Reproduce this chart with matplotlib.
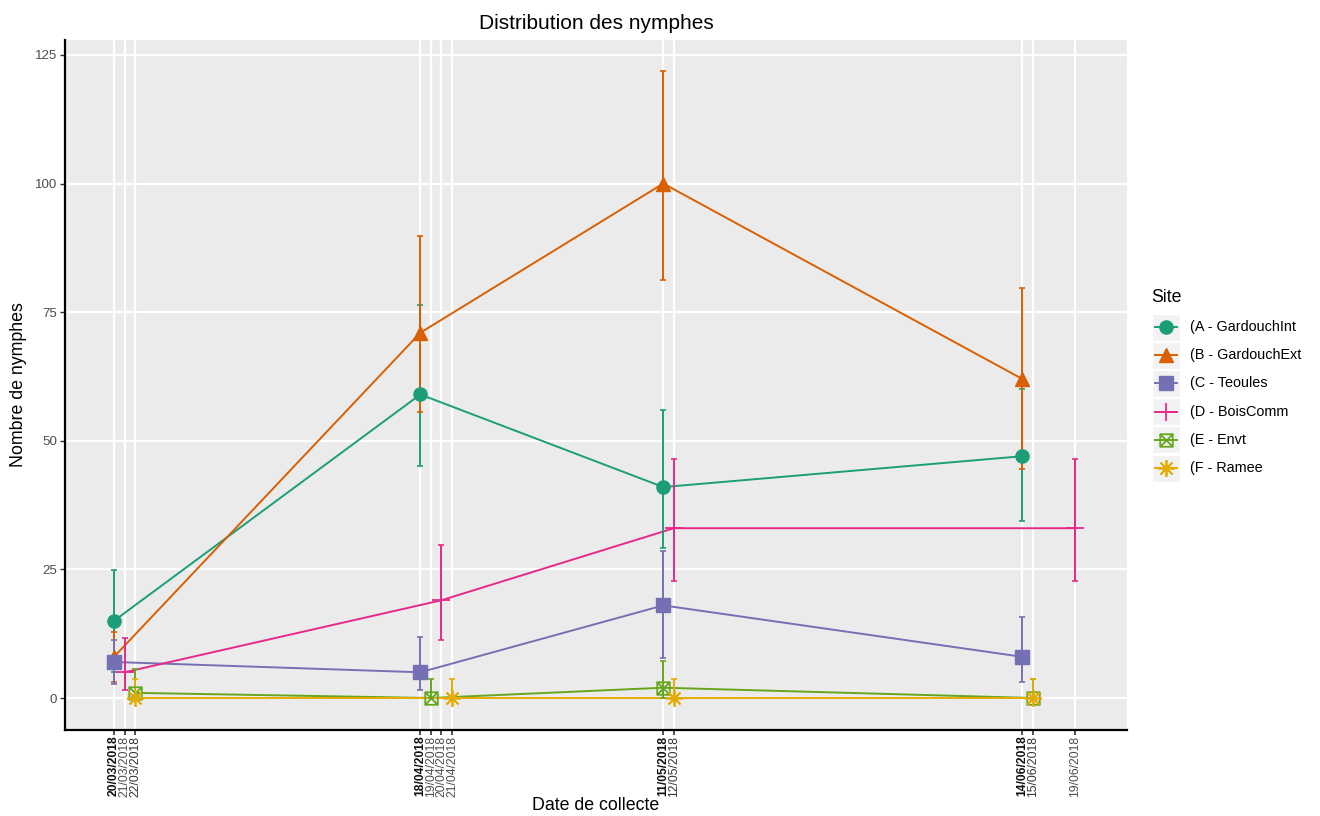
import matplotlib
matplotlib.use('Agg')
import matplotlib.pyplot as plt
import matplotlib.dates as mdates
from matplotlib.path import Path
from matplotlib.patches import Rectangle
import pandas as pd
import numpy as np

plt.rcParams['font.family'] = ['Liberation Sans', 'DejaVu Sans']

# Data
sites = ['(A - GardouchInt', '(B - GardouchExt', '(C - Teoules',
         '(D - BoisComm', '(E - Envt', '(F - Ramee']
colors = ['#1B9E77', '#D95F02', '#7570B3', '#E7298A', '#66A61E', '#E6AB02']

dates_A = ['2018-03-20', '2018-04-18', '2018-05-11', '2018-06-14']
dates_B = ['2018-03-20', '2018-04-18', '2018-05-11', '2018-06-14']
dates_C = ['2018-03-20', '2018-04-18', '2018-05-11', '2018-06-14']
dates_D = ['2018-03-21', '2018-04-20', '2018-05-12', '2018-06-19']
dates_E = ['2018-03-22', '2018-04-19', '2018-05-11', '2018-06-15']
dates_F = ['2018-03-22', '2018-04-21', '2018-05-12', '2018-06-15']

vals_A = [15, 59, 41, 47]
vals_B = [8, 71, 100, 62]
vals_C = [7, 5, 18, 8]
vals_D = [5, 19, 33, 33]
vals_E = [1, 0, 2, 0]
vals_F = [0, 0, 0, 0]

low_A = [5.1, 45, 29.2, 34.4]
low_B = [3.2, 55.5, 81.3, 44.5]
low_C = [2.7, 1.6, 7.8, 3.1]
low_D = [1.6, 11.3, 22.7, 22.7]
low_E = [0, 0, 0, 0]
low_F = [0, 0, 0, 0]

high_A = [24.9, 76.4, 56, 60]
high_B = [12.9, 89.8, 121.9, 79.7]
high_C = [11.3, 11.9, 28.6, 15.7]
high_D = [11.7, 29.7, 46.5, 46.5]
high_E = [5.6, 3.7, 7.2, 3.7]
high_F = [3.7, 3.7, 3.7, 3.7]

all_dates = [dates_A, dates_B, dates_C, dates_D, dates_E, dates_F]
all_vals = [vals_A, vals_B, vals_C, vals_D, vals_E, vals_F]
all_low = [low_A, low_B, low_C, low_D, low_E, low_F]
all_high = [high_A, high_B, high_C, high_D, high_E, high_F]

# boxed x marker (R pch 7)
box_x = Path([(-1, -1), (1, -1), (1, 1), (-1, 1), (-1, -1),
              (-1, -1), (1, 1), (-1, 1), (1, -1)],
             [Path.MOVETO, Path.LINETO, Path.LINETO, Path.LINETO, Path.CLOSEPOLY,
              Path.MOVETO, Path.LINETO, Path.MOVETO, Path.LINETO])
markers = ['o', '^', 's', '+', box_x, (8, 2, 0)]
msizes = [9.5, 10.5, 9.5, 13, 9, 12]
filled = [True, True, True, False, False, False]

fig = plt.figure(figsize=(13.2, 8.16), dpi=100)
ax = fig.add_axes([65 / 1320, 1 - 730 / 816, (1127 - 65) / 1320, (730 - 40) / 816])
ax.set_facecolor('#EBEBEB')

# x ticks: every collection date
tick_dates = sorted(set(d for ds in all_dates for d in ds))
counts = {d: sum(ds.count(d) for ds in all_dates) for d in tick_dates}
tick_nums = mdates.date2num(pd.to_datetime(tick_dates))

for x in tick_nums:
    ax.axvline(x, color='white', lw=1.6, zorder=0)
for y in [0, 25, 50, 75, 100, 125]:
    ax.axhline(y, color='white', lw=1.6, zorder=0)

for i in range(6):
    x = mdates.date2num(pd.to_datetime(all_dates[i]))
    v = np.array(all_vals[i], dtype=float)
    lo = np.array(all_low[i])
    hi = np.array(all_high[i])
    ax.plot(x, v, color=colors[i], lw=1.4, zorder=2)
    ax.errorbar(x, v, yerr=[v - lo, hi - v], fmt='none', ecolor=colors[i],
                elinewidth=1.4, capsize=2.2, capthick=1.2, zorder=3)
    if filled[i]:
        ax.plot(x, v, ls='none', marker=markers[i], ms=msizes[i], color=colors[i],
                mec=colors[i], zorder=4)
    else:
        ax.plot(x, v, ls='none', marker=markers[i], ms=msizes[i], mfc='none',
                mec=colors[i], mew=1.3, zorder=4)

start = mdates.date2num(pd.Timestamp('2018-03-20'))
end = mdates.date2num(pd.Timestamp('2018-06-19'))
ax.set_xlim(start - 4.64, end + 4.9)
ax.set_ylim(-6.22, 127.9)

ax.set_xticks(tick_nums)
ax.set_xticklabels([pd.Timestamp(d).strftime('%d/%m/%Y') for d in tick_dates],
                   rotation=90, fontsize=8.7)
for lab, d in zip(ax.get_xticklabels(), tick_dates):
    n = counts[d]
    if n >= 3:
        lab.set_color('#111111')
        lab.set_fontweight('bold')
    elif n == 2:
        lab.set_color('#333333')
    else:
        lab.set_color('#4D4D4D')

ax.set_yticks([0, 25, 50, 75, 100, 125])
ax.tick_params(axis='y', labelsize=9.6, labelcolor='#4D4D4D', color='#333333',
               length=3.5, width=1, pad=2)
ax.tick_params(axis='x', color='#333333', length=3.5, width=1.2, pad=0.5)

for s in ['top', 'right']:
    ax.spines[s].set_visible(False)
for s in ['left', 'bottom']:
    ax.spines[s].set_color('black')
    ax.spines[s].set_linewidth(1.6)

ax.set_title('Distribution des nymphes', fontsize=15, pad=8)
ax.set_xlabel('Date de collecte', fontsize=12.8, va='center')
ax.xaxis.set_label_coords(0.5, (730 - 806) / 690)
ax.set_ylabel('Nombre de nymphes', fontsize=12.8, labelpad=6)

# legend
lax = fig.add_axes([1148 / 1320, 1 - 484 / 816, 170 / 1320, (484 - 280) / 816])
lax.set_xlim(1148, 1318)
lax.set_ylim(484, 280)
lax.axis('off')
lax.text(1151, 297, 'Site', fontsize=12.8, va='center', ha='left')
for i in range(6):
    yc = 327 + i * 28.2
    lax.add_patch(Rectangle((1152, yc - 13.5), 28, 27, facecolor='#F2F2F2',
                            edgecolor='white', lw=1))
    lax.plot([1155, 1177], [yc, yc], color=colors[i], lw=1.4)
    if filled[i]:
        lax.plot([1166], [yc], marker=markers[i], ms=msizes[i], color=colors[i], ls='none')
    else:
        lax.plot([1166], [yc], marker=markers[i], ms=msizes[i], mfc='none',
                 mec=colors[i], mew=1.3, ls='none')
    lax.text(1190, yc, sites[i], fontsize=10.4, va='center', ha='left', color='black')

fig.savefig('out.png', dpi=100)
